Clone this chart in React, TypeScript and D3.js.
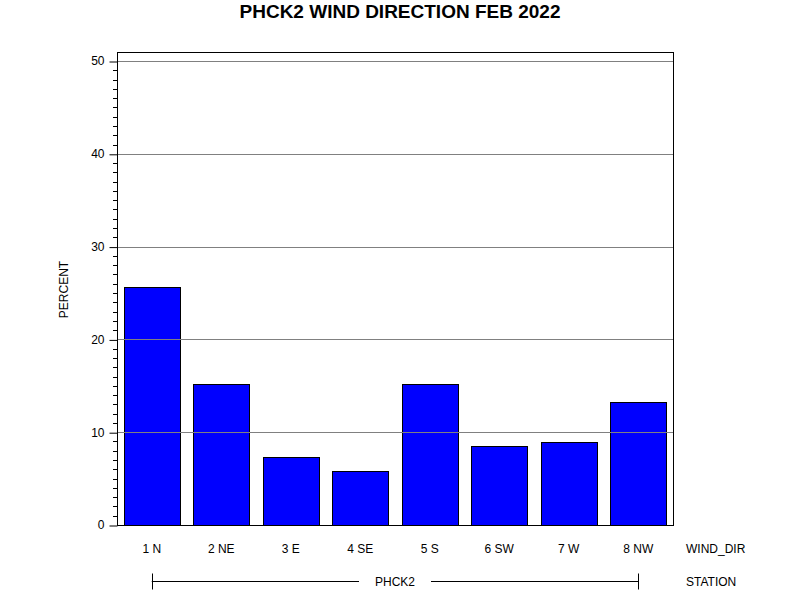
import * as React from 'react';
import * as d3 from 'd3';

const categories = ['1 N', '2 NE', '3 E', '4 SE', '5 S', '6 SW', '7 W', '8 NW'];
const percent = [25.65, 15.18, 7.33, 5.82, 15.18, 8.51, 8.94, 13.25];
const yTicks = [0, 10, 20, 30, 40, 50];
const station = 'PHCK2';

const W = 800;
const H = 600;
const margin = { top: 52, right: 127, bottom: 75, left: 117 };
const FONT = 'Liberation Sans, Arial, sans-serif';

export default function App() {
    const ref = React.useRef<SVGSVGElement>(null);

    React.useEffect(() => {
        const svg = d3.select(ref.current);
        svg.selectAll('*').remove();

        const innerW = W - margin.left - margin.right;
        const innerH = H - margin.top - margin.bottom;

        const x = d3.scaleBand<string>()
            .domain(categories)
            .range([0, innerW])
            .paddingInner(0.194)
            .paddingOuter(0.097);

        const y = d3.scaleLinear()
            .domain([0, 50])
            .range([innerH, innerH - 464]);

        svg.append('rect').attr('width', W).attr('height', H).attr('fill', '#fff');

        svg.append('text')
            .attr('x', 400).attr('y', 18)
            .attr('text-anchor', 'middle')
            .attr('font-family', FONT)
            .attr('font-weight', 'bold')
            .attr('font-size', 19)
            .text('PHCK2 WIND DIRECTION FEB 2022');

        const g = svg.append('g')
            .attr('transform', 'translate(' + margin.left + ',' + margin.top + ')');

        // bars
        g.selectAll('.bar')
            .data(categories)
            .enter()
            .append('rect')
            .attr('class', 'bar')
            .attr('x', (d) => Math.round(x(d)) + 0.5)
            .attr('width', Math.round(x.bandwidth()))
            .attr('y', (d, i) => Math.round(y(percent[i])) + 0.5)
            .attr('height', (d, i) => Math.round(y(0)) - Math.round(y(percent[i])))
            .attr('fill', '#0000ff')
            .attr('stroke', '#000')
            .attr('stroke-width', 1);

        // grid lines over bars
        g.selectAll('.grid')
            .data(yTicks.filter((t) => t > 0))
            .enter()
            .append('line')
            .attr('x1', 0).attr('x2', innerW)
            .attr('y1', (d) => Math.round(y(d)) + 0.5)
            .attr('y2', (d) => Math.round(y(d)) + 0.5)
            .attr('stroke', '#808080')
            .attr('stroke-width', 1);

        // frame
        g.append('rect')
            .attr('x', 0.5).attr('y', 0.5)
            .attr('width', innerW).attr('height', innerH)
            .attr('fill', 'none')
            .attr('stroke', '#000');

        // y axis
        const axisLeft = g.append('g')
            .attr('transform', 'translate(0.5,0)')
            .call(d3.axisLeft(y).tickValues(yTicks).tickSize(8).tickPadding(5).tickFormat(d3.format('d')));
        axisLeft.select('.domain').remove();
        axisLeft.selectAll('line').attr('transform', 'translate(0,0.5)');
        axisLeft.selectAll('text')
            .attr('font-family', FONT)
            .attr('font-size', 12)
            .attr('fill', '#000');

        const minor = d3.range(0, 51).filter((v) => v % 10 !== 0);
        g.selectAll('.minor')
            .data(minor)
            .enter()
            .append('line')
            .attr('x1', -4).attr('x2', 0)
            .attr('y1', (d) => Math.round(y(d)) + 0.5)
            .attr('y2', (d) => Math.round(y(d)) + 0.5)
            .attr('stroke', '#000');

        svg.append('text')
            .attr('transform', 'translate(68,' + (margin.top + innerH / 2 + 1) + ') rotate(-90)')
            .attr('text-anchor', 'middle')
            .attr('font-family', FONT)
            .attr('font-size', 12)
            .text('PERCENT');

        // category labels
        g.selectAll('.cat')
            .data(categories)
            .enter()
            .append('text')
            .attr('x', (d) => x(d) + x.bandwidth() / 2)
            .attr('y', innerH + 28)
            .attr('text-anchor', 'middle')
            .attr('font-family', FONT)
            .attr('font-size', 12)
            .text((d) => d);

        svg.append('text')
            .attr('x', 686).attr('y', margin.top + innerH + 28)
            .attr('font-family', FONT)
            .attr('font-size', 12)
            .text('WIND_DIR');

        // station bracket
        const sx1 = margin.left + x(categories[0]) + x.bandwidth() / 2;
        const sx2 = margin.left + x(categories[categories.length - 1]) + x.bandwidth() / 2;
        const sy = 581.5;
        const sLabel = svg.append('text')
            .attr('x', (sx1 + sx2) / 2).attr('y', sy + 4)
            .attr('text-anchor', 'middle')
            .attr('font-family', FONT)
            .attr('font-size', 12)
            .text(station);
        const half = 36;
        const mid = (sx1 + sx2) / 2;
        svg.append('line').attr('x1', sx1).attr('x2', mid - half).attr('y1', sy).attr('y2', sy).attr('stroke', '#000');
        svg.append('line').attr('x1', mid + half).attr('x2', sx2).attr('y1', sy).attr('y2', sy).attr('stroke', '#000');
        svg.append('line').attr('x1', Math.round(sx1) + 0.5).attr('x2', Math.round(sx1) + 0.5).attr('y1', sy - 8).attr('y2', sy + 8).attr('stroke', '#000');
        svg.append('line').attr('x1', Math.round(sx2) + 0.5).attr('x2', Math.round(sx2) + 0.5).attr('y1', sy - 8).attr('y2', sy + 8).attr('stroke', '#000');
        sLabel.raise();

        svg.append('text')
            .attr('x', 686).attr('y', sy + 4)
            .attr('font-family', FONT)
            .attr('font-size', 12)
            .text('STATION');
    }, []);

    return (
        <svg ref={ref} width={W} height={H}
            style={{ position: 'absolute', left: 0, top: 0, display: 'block' }}></svg>
    );
}
